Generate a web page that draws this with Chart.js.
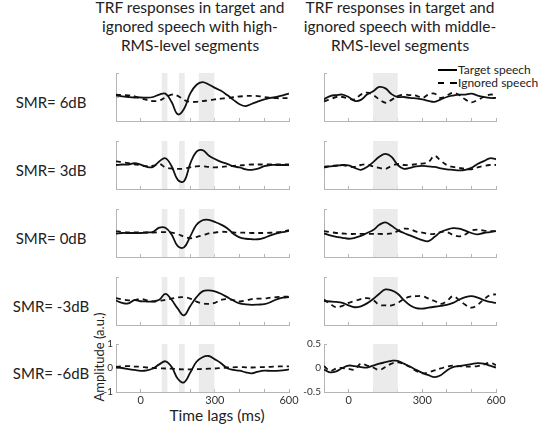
<!DOCTYPE html>
<html>
<head>
<meta charset="utf-8">
<script src="https://cdn.jsdelivr.net/npm/chart.js@4.4.0/dist/chart.umd.min.js"></script>
<style>
  body { margin: 0; background: #fff; }
  #fig { position: relative; width: 544px; height: 428px; overflow: hidden; font-family: Lato, sans-serif; color: #222; }
  #fig canvas { position: absolute; }
  .txt { position: absolute; white-space: nowrap; }
  .title { font-size: 15.5px; line-height: 19px; text-align: center; transform: translateX(-50%); }
  .row { font-size: 15px; transform: translate(-50%, -50%); }
  .key { position: absolute; height: 2px; }
</style>
</head>
<body>
<div id="fig">
  <div class="txt title" style="left:190px; top:-2px;">TRF responses in target and<br>ignored speech with high-<br>RMS-level segments</div>
  <div class="txt title" style="left:400px; top:-2px;">TRF responses in target and<br>ignored speech with middle-<br>RMS-level segments</div>
  <div class="txt" style="left:99px; top:357px; font-size:13px; transform:translate(-50%,-50%) rotate(-90deg);">Amplitude (a.u.)</div>
  <div class="txt" style="left:217px; top:415px; font-size:15.5px; transform:translate(-50%,-50%);">Time lags (ms)</div>
  <div class="key" style="left:438px; top:69px; width:19px; background:#000;"></div>
  <div class="txt" style="left:458px; top:62px; font-size:12px;">Target speech</div>
  <div class="key" style="left:438px; top:82px; width:19px; background:linear-gradient(to right,#000 0 6px,transparent 6px 12px,#000 12px 19px);"></div>
  <div class="txt" style="left:458px; top:75px; font-size:12px;">Ignored speech</div>
</div>
<script>
// time lags (ms)
const lags = [-100, -75, -50, -25, 0, 25, 50, 75, 100, 125, 150, 175, 200, 225, 250, 275, 300, 325, 350, 375, 400, 425, 450, 475, 500, 525, 550, 575, 600];

const smrLabels = ['SMR= 6dB', 'SMR= 3dB', 'SMR= 0dB', 'SMR= -3dB', 'SMR= -6dB'];

// shaded windows (ms)
const highBands = [[85, 108], [155, 178], [235, 298]];
const middleBands = [[100, 200]];

const xTickLabels = [0, 300, 600];
const highTickLabels = [-1, 0, 1];
const middleTickLabels = [-0.5, 0, 0.5];

// high-RMS-level segments
const highTarget6 = [0.06, 0.03, 0.0, -0.02, -0.02, -0.03, 0.0, 0.1, 0.14, -0.21, -0.72, -0.5, 0.14, 0.5, 0.62, 0.52, 0.38, 0.26, 0.08, -0.12, -0.3, -0.38, -0.28, -0.18, -0.1, -0.04, 0.0, 0.07, 0.14];
const highIgnored6 = [0.1, 0.08, 0.07, 0.03, -0.05, -0.12, -0.17, -0.15, -0.02, 0.1, 0.05, -0.12, -0.2, -0.2, -0.17, -0.14, -0.1, -0.07, -0.04, -0.01, 0.02, 0.04, 0.05, 0.04, 0.0, -0.03, -0.05, -0.05, -0.05];
const highTarget3 = [0.0, 0.02, 0.02, 0.08, 0.02, -0.08, -0.08, 0.15, 0.28, -0.05, -0.62, -0.68, 0.05, 0.55, 0.62, 0.4, 0.25, 0.13, 0.05, -0.06, -0.1, -0.18, -0.2, -0.15, -0.05, 0.0, 0.0, 0.0, 0.0];
const highIgnored3 = [0.15, 0.12, 0.08, 0.03, -0.02, -0.05, -0.03, 0.05, -0.1, -0.15, -0.16, -0.15, -0.1, -0.06, -0.05, -0.08, -0.1, -0.08, -0.06, -0.04, -0.02, 0.0, 0.02, 0.02, 0.02, 0.02, 0.02, 0.02, 0.02];
const highTarget0 = [-0.02, 0.0, 0.0, 0.0, 0.0, 0.02, 0.05, 0.22, 0.22, -0.06, -0.55, -0.6, -0.15, 0.33, 0.53, 0.55, 0.46, 0.35, 0.2, -0.03, -0.18, -0.24, -0.26, -0.26, -0.2, -0.1, -0.02, 0.04, 0.09];
const highIgnored0 = [0.08, 0.04, 0.02, 0.02, 0.02, 0.02, 0.02, 0.03, 0.04, 0.02, -0.05, -0.15, -0.22, -0.17, -0.1, -0.02, 0.02, 0.05, 0.04, 0.02, 0.02, 0.01, 0.0, 0.0, 0.0, 0.01, 0.03, 0.06, 0.12];
const highTargetM3 = [0.02, -0.08, -0.1, 0.04, -0.01, -0.02, -0.02, 0.05, 0.3, 0.05, -0.32, -0.6, -0.22, 0.15, 0.4, 0.44, 0.4, 0.3, 0.16, 0.02, -0.1, -0.14, -0.16, -0.15, -0.13, -0.05, 0.07, 0.14, 0.16];
const highIgnoredM3 = [0.12, 0.07, 0.03, 0.04, 0.09, 0.03, -0.02, 0.01, 0.05, 0.1, 0.15, 0.16, 0.1, -0.02, -0.1, -0.12, -0.08, 0.05, 0.08, 0.04, -0.02, 0.02, 0.08, 0.1, 0.1, 0.14, 0.16, 0.18, 0.18];
const highTargetM6 = [0.02, 0.0, -0.05, -0.08, -0.12, -0.1, -0.02, 0.15, 0.28, 0.05, -0.45, -0.6, -0.2, 0.25, 0.45, 0.5, 0.36, 0.2, -0.01, -0.08, -0.11, -0.18, -0.22, -0.15, -0.11, -0.12, -0.12, -0.1, -0.06];
const highIgnoredM6 = [0.05, 0.07, 0.08, 0.06, 0.05, 0.02, 0.0, -0.01, -0.02, -0.03, -0.05, -0.06, -0.06, -0.05, -0.04, -0.03, -0.02, 0.0, 0.02, 0.03, 0.04, 0.03, 0.02, 0.03, 0.04, 0.05, 0.06, 0.07, 0.07];

// middle-RMS-level segments
const midTarget6 = [-0.05, 0.02, 0.04, 0.05, 0.0, -0.08, -0.06, 0.05, 0.12, 0.21, 0.18, 0.06, 0.0, 0.0, -0.02, -0.03, -0.05, -0.08, -0.1, -0.05, 0.0, 0.03, 0.05, 0.05, 0.07, 0.03, 0.0, -0.02, -0.02];
const midIgnored6 = [-0.09, -0.05, 0.0, 0.0, -0.03, -0.05, 0.05, 0.09, 0.04, -0.05, -0.12, -0.06, 0.02, 0.05, 0.04, 0.03, -0.02, 0.05, 0.07, -0.02, 0.03, 0.09, 0.04, -0.05, -0.11, -0.06, 0.0, 0.05, 0.04];
const midTarget3 = [-0.05, -0.03, -0.02, 0.0, -0.01, -0.06, -0.1, -0.04, 0.06, 0.17, 0.23, 0.17, 0.0, -0.08, -0.06, -0.03, -0.02, -0.03, -0.04, -0.07, -0.09, -0.1, -0.11, -0.1, -0.06, 0.02, 0.08, 0.14, 0.12];
const midIgnored3 = [-0.04, -0.02, -0.01, 0.0, -0.03, -0.04, 0.0, 0.01, -0.03, -0.06, -0.08, -0.02, 0.02, 0.0, 0.0, 0.02, 0.03, 0.06, 0.19, 0.09, 0.0, -0.04, -0.06, -0.08, -0.09, -0.05, -0.02, 0.0, 0.0];
const midTarget0 = [-0.01, -0.05, -0.08, -0.1, -0.12, -0.1, -0.06, 0.0, 0.06, 0.17, 0.22, 0.15, 0.06, 0.0, -0.05, -0.1, -0.15, -0.17, -0.08, 0.02, 0.07, 0.1, 0.09, 0.05, 0.0, -0.03, 0.0, 0.02, 0.04];
const midIgnored0 = [0.04, 0.02, 0.0, -0.01, -0.02, -0.02, -0.02, -0.02, -0.02, -0.02, -0.02, -0.01, 0.04, 0.09, 0.08, 0.03, 0.01, -0.02, -0.02, 0.02, 0.02, -0.04, -0.07, -0.03, 0.05, 0.07, 0.05, 0.04, 0.04];
const midTargetM3 = [0.0, -0.01, -0.02, -0.04, -0.09, -0.13, -0.11, -0.05, 0.04, 0.15, 0.24, 0.22, 0.15, 0.02, -0.09, -0.15, -0.16, -0.14, -0.12, -0.1, -0.08, -0.04, 0.03, 0.08, 0.1, 0.07, 0.02, -0.02, -0.04];
const midIgnoredM3 = [0.03, -0.06, -0.13, -0.1, -0.04, 0.0, 0.04, 0.06, 0.02, -0.08, -0.09, -0.09, -0.04, 0.04, 0.09, 0.1, 0.1, 0.05, 0.0, -0.06, 0.0, 0.1, 0.02, -0.08, -0.14, -0.08, 0.03, 0.12, 0.14];
const midTargetM6 = [-0.03, -0.09, -0.07, 0.0, 0.05, 0.04, 0.02, 0.01, 0.05, 0.09, 0.12, 0.15, 0.15, 0.09, 0.03, -0.04, -0.1, -0.15, -0.19, -0.15, -0.05, 0.02, 0.04, 0.06, 0.08, 0.1, 0.09, 0.05, 0.01];
const midIgnoredM6 = [0.04, -0.06, -0.01, 0.0, -0.02, -0.03, 0.09, 0.05, 0.01, -0.04, 0.02, 0.09, 0.12, 0.08, 0.02, -0.06, -0.11, -0.09, -0.05, -0.01, 0.03, 0.05, 0.04, 0.03, 0.03, 0.04, 0.07, 0.11, 0.06];

const highTargets = [highTarget6, highTarget3, highTarget0, highTargetM3, highTargetM6];
const highIgnored = [highIgnored6, highIgnored3, highIgnored0, highIgnoredM3, highIgnoredM6];
const midTargets = [midTarget6, midTarget3, midTarget0, midTargetM3, midTargetM6];
const midIgnored = [midIgnored6, midIgnored3, midIgnored0, midIgnoredM3, midIgnoredM6];

// layout of the plot areas
const rowTops = [73, 141, 209, 277, 344];
const plotH = 48;
const cols = [
  { left: 116, width: 173, lim: 1, step: 1, labels: highTickLabels, bands: highBands, targets: highTargets, ignored: highIgnored },
  { left: 324, width: 172, lim: 0.5, step: 0.5, labels: middleTickLabels, bands: middleBands, targets: midTargets, ignored: midIgnored },
];

const bandPlugin = {
  id: 'bands',
  beforeDatasetsDraw(chart, args, opts) {
    const { ctx, chartArea, scales } = chart;
    ctx.save();
    ctx.fillStyle = '#ebebeb';
    opts.list.forEach(([a, b]) => {
      const x1 = scales.x.getPixelForValue(a);
      const x2 = scales.x.getPixelForValue(b);
      ctx.fillRect(x1, chartArea.top, x2 - x1, chartArea.bottom - chartArea.top);
    });
    ctx.restore();
  },
};

const fig = document.getElementById('fig');
// canvas margins round the plot area; big enough for the label padding chart.js asks for
const PADL = 30, PADT = 16, PADR = 22, PADB = 24;

function toPoints(values) {
  return lags.map((x, i) => ({ x: x, y: values[i] }));
}

rowTops.forEach((top, r) => {
  const lab = document.createElement('div');
  lab.className = 'txt row';
  lab.style.left = '51px';
  lab.style.top = (top + plotH / 2 + 5) + 'px';
  lab.textContent = smrLabels[r];
  fig.appendChild(lab);

  const bottomRow = r === rowTops.length - 1;

  cols.forEach((col) => {
    const cv = document.createElement('canvas');
    cv.width = PADL + col.width + PADR;
    cv.height = PADT + plotH + PADB;
    cv.style.left = (col.left - PADL) + 'px';
    cv.style.top = (top - PADT) + 'px';
    fig.appendChild(cv);

    new Chart(cv, {
      type: 'line',
      data: {
        datasets: [
          { data: toPoints(col.targets[r]), borderColor: '#111', borderWidth: 1.8, pointRadius: 0, tension: 0.4 },
          { data: toPoints(col.ignored[r]), borderColor: '#111', borderWidth: 1.8, borderDash: [5, 4], pointRadius: 0, tension: 0.4 },
        ],
      },
      options: {
        responsive: false,
        animation: false,
        layout: { padding: { left: 0, top: PADT, right: PADR, bottom: 0 } },
        plugins: { legend: { display: false }, tooltip: { enabled: false }, bands: { list: col.bands } },
        scales: {
          x: {
            type: 'linear',
            min: -100,
            max: 600,
            afterFit: (s) => { s.height = PADB; },
            border: { color: '#b5b5b5' },
            grid: { drawOnChartArea: false, tickLength: -3, color: '#b5b5b5' },
            ticks: {
              stepSize: 100,
              padding: 5,
              maxRotation: 0,
              autoSkip: false,
              color: '#333',
              font: { family: 'Lato', size: 11 },
              callback: (v) => (bottomRow && xTickLabels.includes(v) ? String(v) : ''),
            },
          },
          y: {
            min: -col.lim,
            max: col.lim,
            afterFit: (s) => { s.width = PADL; },
            border: { color: '#b5b5b5' },
            grid: { drawOnChartArea: false, tickLength: -3, color: '#b5b5b5' },
            ticks: {
              stepSize: col.step,
              padding: 6,
              color: '#333',
              font: { family: 'Lato', size: 10 },
              callback: (v) => (bottomRow && col.labels.includes(v) ? String(v) : ''),
            },
          },
        },
      },
      plugins: [bandPlugin],
    });
  });
});
</script>
</body>
</html>
